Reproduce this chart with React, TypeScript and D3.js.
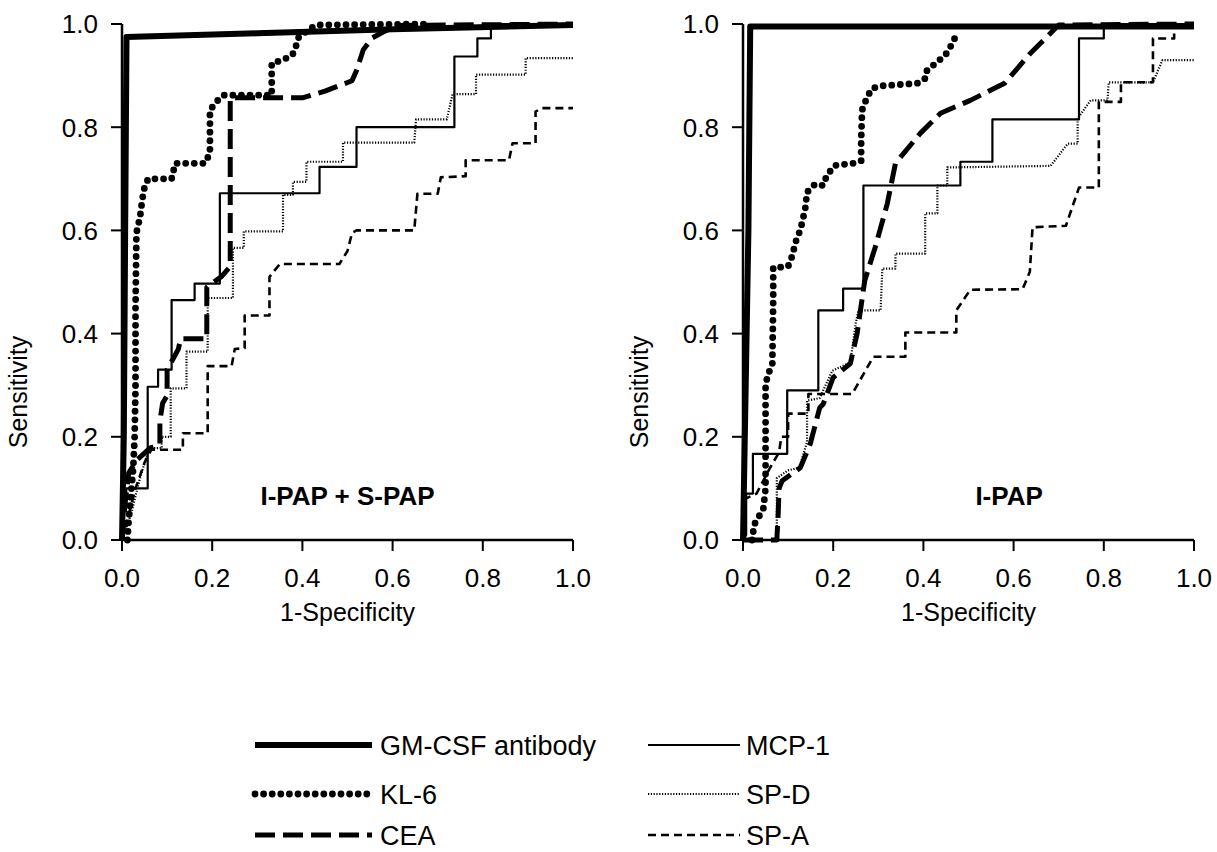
import * as d3 from 'd3';
import React from 'react';

type Pt = [number, number];

const tickValues = [0, 0.2, 0.4, 0.6, 0.8, 1.0];
const tickLabels = ['0.0', '0.2', '0.4', '0.6', '0.8', '1.0'];

// I-PAP + S-PAP (left)
const gmLeft: Pt[] = [[0, 0], [0.004, 0.2], [0.007, 0.6], [0.01, 0.975], [0.3, 0.982], [0.6, 0.99], [1, 0.998]];
const klLeft: Pt[] = [[0.012, 0], [0.015, 0.04], [0.02, 0.09], [0.025, 0.14], [0.028, 0.2], [0.03, 0.3], [0.03, 0.45], [0.032, 0.595], [0.04, 0.626], [0.045, 0.66], [0.05, 0.684], [0.058, 0.7], [0.11, 0.7], [0.118, 0.73], [0.184, 0.73], [0.195, 0.75], [0.195, 0.833], [0.21, 0.85], [0.225, 0.862], [0.332, 0.862], [0.332, 0.924], [0.356, 0.93], [0.378, 0.94], [0.387, 0.96], [0.392, 0.975], [0.416, 0.99], [0.43, 0.998], [0.68, 1.0]];
const ceaLeft: Pt[] = [[0, 0], [0.008, 0.08], [0.015, 0.13], [0.033, 0.155], [0.062, 0.178], [0.084, 0.185], [0.084, 0.23], [0.09, 0.265], [0.1, 0.28], [0.1, 0.33], [0.125, 0.37], [0.13, 0.39], [0.188, 0.39], [0.188, 0.49], [0.22, 0.51], [0.24, 0.53], [0.24, 0.857], [0.4, 0.857], [0.45, 0.87], [0.51, 0.89], [0.52, 0.91], [0.535, 0.95], [0.555, 0.973], [0.58, 0.985], [0.61, 0.997], [1, 1]];
const mcpLeft: Pt[] = [[0, 0], [0.01, 0.1], [0.057, 0.1], [0.057, 0.297], [0.08, 0.297], [0.08, 0.33], [0.11, 0.33], [0.11, 0.465], [0.161, 0.465], [0.161, 0.497], [0.217, 0.497], [0.217, 0.672], [0.438, 0.672], [0.438, 0.723], [0.52, 0.723], [0.52, 0.8], [0.737, 0.8], [0.737, 0.937], [0.788, 0.937], [0.788, 0.972], [0.818, 0.972], [0.818, 1.0], [1, 1]];
const spdLeft: Pt[] = [[0, 0], [0.02, 0.05], [0.04, 0.12], [0.06, 0.178], [0.088, 0.178], [0.088, 0.2], [0.108, 0.2], [0.108, 0.294], [0.143, 0.294], [0.143, 0.365], [0.19, 0.365], [0.19, 0.469], [0.246, 0.469], [0.246, 0.566], [0.27, 0.566], [0.27, 0.598], [0.357, 0.598], [0.357, 0.669], [0.379, 0.669], [0.379, 0.694], [0.409, 0.694], [0.409, 0.733], [0.49, 0.733], [0.49, 0.77], [0.648, 0.77], [0.652, 0.815], [0.72, 0.815], [0.733, 0.864], [0.785, 0.864], [0.785, 0.902], [0.895, 0.902], [0.895, 0.934], [1, 0.934]];
const spaLeft: Pt[] = [[0, 0], [0.015, 0.05], [0.03, 0.1], [0.05, 0.15], [0.065, 0.175], [0.135, 0.175], [0.135, 0.207], [0.19, 0.207], [0.19, 0.337], [0.243, 0.337], [0.25, 0.37], [0.272, 0.372], [0.272, 0.435], [0.327, 0.435], [0.327, 0.51], [0.35, 0.535], [0.482, 0.535], [0.5, 0.56], [0.51, 0.595], [0.52, 0.6], [0.648, 0.6], [0.655, 0.671], [0.7, 0.671], [0.707, 0.703], [0.762, 0.705], [0.762, 0.736], [0.858, 0.736], [0.866, 0.769], [0.917, 0.769], [0.917, 0.83], [0.93, 0.837], [1, 0.837]];

// I-PAP (right)
const gmRight: Pt[] = [[0, 0], [0.006, 0.3], [0.012, 0.6], [0.016, 0.995], [1, 0.995]];
const klRight: Pt[] = [[0.02, 0], [0.025, 0.03], [0.035, 0.045], [0.045, 0.06], [0.05, 0.1], [0.05, 0.3], [0.055, 0.32], [0.065, 0.34], [0.067, 0.464], [0.067, 0.528], [0.075, 0.528], [0.1, 0.53], [0.108, 0.548], [0.119, 0.584], [0.127, 0.6], [0.138, 0.642], [0.142, 0.674], [0.16, 0.69], [0.178, 0.687], [0.186, 0.707], [0.204, 0.726], [0.245, 0.73], [0.262, 0.735], [0.262, 0.775], [0.264, 0.833], [0.275, 0.858], [0.286, 0.875], [0.305, 0.88], [0.386, 0.885], [0.405, 0.895], [0.408, 0.91], [0.43, 0.926], [0.449, 0.94], [0.46, 0.956], [0.471, 0.975]];
const ceaRight: Pt[] = [[0, 0], [0.075, 0], [0.078, 0.05], [0.08, 0.1], [0.087, 0.115], [0.127, 0.14], [0.149, 0.186], [0.17, 0.256], [0.178, 0.264], [0.2, 0.315], [0.238, 0.342], [0.253, 0.4], [0.27, 0.503], [0.293, 0.567], [0.32, 0.652], [0.338, 0.73], [0.393, 0.788], [0.438, 0.827], [0.504, 0.852], [0.58, 0.885], [0.638, 0.944], [0.7, 0.998], [1, 1]];
const mcpRight: Pt[] = [[0, 0], [0.007, 0.01], [0.007, 0.09], [0.022, 0.09], [0.022, 0.167], [0.098, 0.167], [0.098, 0.29], [0.167, 0.29], [0.167, 0.445], [0.222, 0.445], [0.222, 0.487], [0.267, 0.487], [0.267, 0.687], [0.482, 0.687], [0.482, 0.733], [0.553, 0.733], [0.553, 0.815], [0.745, 0.815], [0.745, 0.972], [0.8, 0.972], [0.8, 1], [1, 1]];
const spdRight: Pt[] = [[0, 0], [0.075, 0], [0.075, 0.12], [0.1, 0.135], [0.125, 0.14], [0.142, 0.19], [0.142, 0.27], [0.17, 0.275], [0.198, 0.328], [0.238, 0.344], [0.25, 0.42], [0.256, 0.445], [0.305, 0.445], [0.309, 0.526], [0.338, 0.526], [0.338, 0.555], [0.404, 0.555], [0.404, 0.633], [0.431, 0.633], [0.431, 0.687], [0.453, 0.687], [0.453, 0.722], [0.682, 0.725], [0.72, 0.768], [0.742, 0.768], [0.742, 0.817], [0.771, 0.852], [0.808, 0.852], [0.811, 0.887], [0.909, 0.887], [0.93, 0.93], [1, 0.93]];
const spaRight: Pt[] = [[0, 0], [0.005, 0.08], [0.03, 0.09], [0.06, 0.14], [0.08, 0.17], [0.085, 0.2], [0.1, 0.2], [0.1, 0.245], [0.145, 0.245], [0.145, 0.283], [0.242, 0.283], [0.289, 0.355], [0.36, 0.355], [0.36, 0.402], [0.473, 0.402], [0.473, 0.445], [0.504, 0.485], [0.62, 0.486], [0.636, 0.52], [0.642, 0.606], [0.716, 0.609], [0.745, 0.683], [0.789, 0.683], [0.789, 0.849], [0.838, 0.849], [0.838, 0.887], [0.909, 0.887], [0.909, 0.972], [0.956, 0.972], [0.956, 1]];

const seriesNames = ['GM-CSF antibody', 'KL-6', 'CEA', 'MCP-1', 'SP-D', 'SP-A'];

const styles: Record<string, { w: number; dash?: string; cap?: string }> = {
  'GM-CSF antibody': { w: 6 },
  'KL-6': { w: 6.8, dash: '0 8.6', cap: 'round' },
  'CEA': { w: 5, dash: '20 8' },
  'MCP-1': { w: 2.2 },
  'SP-D': { w: 2.2, dash: '1.2 1.6' },
  'SP-A': { w: 2.6, dash: '8 5' },
};

const font = '"Liberation Sans", Arial, Helvetica, sans-serif';

const Panel = ({ left, series, label, labelX }: { left: number; series: Pt[][]; label: string; labelX: number }) => {
  const x = d3.scaleLinear().domain([0, 1]).range([left, left + 451]);
  const y = d3.scaleLinear().domain([0, 1]).range([540, 24]);
  const line = d3.line<Pt>().x(d => x(d[0])).y(d => y(d[1]));
  // thin lines first, thick ones on top
  const order = [5, 4, 3, 2, 1, 0];
  return (
    <g>
      <line x1={x(0)} x2={x(0)} y1={y(0)} y2={y(1)} stroke="#000" strokeWidth={2.5} />
      <line x1={x(0)} x2={x(1)} y1={y(0)} y2={y(0)} stroke="#000" strokeWidth={2.5} />
      {tickValues.map((t, i) => (
        <g key={'t' + i}>
          <line x1={x(0) - 11} x2={x(0)} y1={y(t)} y2={y(t)} stroke="#000" strokeWidth={2} />
          <text x={x(0) - 24} y={y(t)} dy="0.36em" textAnchor="end" fontSize={26} fontFamily={font}>{tickLabels[i]}</text>
          <line x1={x(t)} x2={x(t)} y1={y(0)} y2={y(0) + 11} stroke="#000" strokeWidth={2} />
          <text x={x(t)} y={y(0) + 47} textAnchor="middle" fontSize={26} fontFamily={font}>{tickLabels[i]}</text>
        </g>
      ))}
      <text transform={`translate(${left - 95},392) rotate(-90)`} textAnchor="middle" fontSize={25} fontFamily={font}>Sensitivity</text>
      <text x={x(0.5)} y={621} textAnchor="middle" fontSize={25} fontFamily={font}>1-Specificity</text>
      <text x={x(labelX)} y={505} textAnchor="middle" fontSize={26} fontWeight="bold" fontFamily={font}>{label}</text>
      {order.map(i => {
        const s = styles[seriesNames[i]];
        return (
          <path key={i} d={line(series[i]) || ''} fill="none" stroke="#000" strokeWidth={s.w}
            strokeDasharray={s.dash} strokeLinecap={(s.cap as any) || 'butt'} strokeLinejoin="round" />
        );
      })}
    </g>
  );
};

const Legend = () => {
  const rows = [755, 804, 845];
  const cols = [{ x0: 255, x1: 372, tx: 380 }, { x0: 648, x1: 740, tx: 746 }];
  return (
    <g>
      {seriesNames.map((name, i) => {
        const c = cols[Math.floor(i / 3)];
        const yy = rows[i % 3];
        const s = styles[name];
        return (
          <g key={name}>
            <line x1={c.x0} x2={c.x1} y1={yy - 10} y2={yy - 10} stroke="#000" strokeWidth={s.w}
              strokeDasharray={s.dash} strokeLinecap={(s.cap as any) || 'butt'} />
            <text x={c.tx} y={yy} fontSize={27} fontFamily={font}>{name}</text>
          </g>
        );
      })}
    </g>
  );
};

const App = () => (
  <svg width={1217} height={852} style={{ position: 'absolute', left: 0, top: 0, background: '#fff' }}>
    <rect width={1217} height={852} fill="#fff" />
    <Panel left={122} series={[gmLeft, klLeft, ceaLeft, mcpLeft, spdLeft, spaLeft]} label="I-PAP + S-PAP" labelX={0.5} />
    <Panel left={743} series={[gmRight, klRight, ceaRight, mcpRight, spdRight, spaRight]} label="I-PAP" labelX={0.59} />
    <Legend />
  </svg>
);

export default App;
